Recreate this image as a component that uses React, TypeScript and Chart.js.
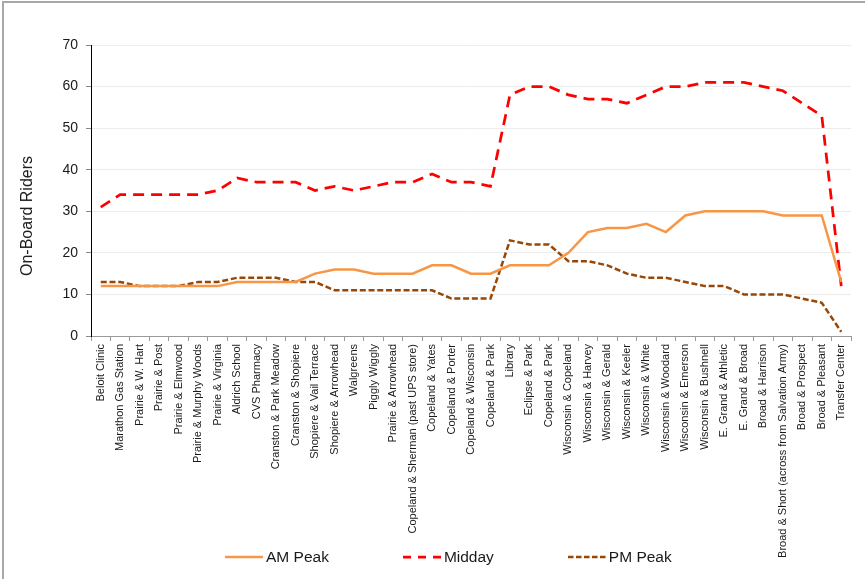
import React, { useEffect, useRef } from "react";
import { Chart, registerables } from "chart.js";

Chart.register(...registerables);

const stops: string[] = [
  "Beloit Clinic",
  "Marathon Gas Station",
  "Prairie & W. Hart",
  "Prairie & Post",
  "Prairie & Elmwood",
  "Prairie & Murphy Woods",
  "Prairie & Virginia",
  "Aldrich School",
  "CVS Pharmacy",
  "Cranston & Park Meadow",
  "Cranston & Shopiere",
  "Shopiere & Vail Terrace",
  "Shopiere & Arrowhead",
  "Walgreens",
  "Piggly Wiggly",
  "Prairie & Arrowhead",
  "Copeland & Sherman (past UPS store)",
  "Copeland & Yates",
  "Copeland & Porter",
  "Copeland & Wisconsin",
  "Copeland & Park",
  "Library",
  "Eclipse & Park",
  "Copeland & Park",
  "Wisconsin & Copeland",
  "Wisconsin & Harvey",
  "Wisconsin & Gerald",
  "Wisconsin & Keeler",
  "Wisconsin & White",
  "Wisconsin & Woodard",
  "Wisconsin & Emerson",
  "Wisconsin & Bushnell",
  "E. Grand & Athletic",
  "E. Grand & Broad",
  "Broad & Harrison",
  "Broad & Short (across from Salvation Army)",
  "Broad & Prospect",
  "Broad & Pleasant",
  "Transfer Center",
];

const amPeak: number[] = [
  12, 12, 12, 12, 12, 12, 12, 13, 13, 13, 13, 15, 16, 16, 15, 15, 15, 17, 17, 15,
  15, 17, 17, 17, 20, 25, 26, 26, 27, 25, 29, 30, 30, 30, 30, 29, 29, 29, 13,
];

const midday: number[] = [
  31, 34, 34, 34, 34, 34, 35, 38, 37, 37, 37, 35, 36, 35, 36, 37, 37, 39, 37, 37,
  36, 58, 60, 60, 58, 57, 57, 56, 58, 60, 60, 61, 61, 61, 60, 59, 56, 53, 12,
];

const pmPeak: number[] = [
  13, 13, 12, 12, 12, 13, 13, 14, 14, 14, 13, 13, 11, 11, 11, 11, 11, 11, 9, 9,
  9, 23, 22, 22, 18, 18, 17, 15, 14, 14, 13, 12, 12, 10, 10, 10, 9, 8, 1,
];

const seriesNames: string[] = ["AM Peak", "Midday", "PM Peak"];
const seriesColors: string[] = ["#F79646", "#FF0000", "#974706"];
const seriesDash: number[][] = [[], [11, 7], [6, 2.75]];
const seriesWidths: number[] = [2.5, 2.75, 2.5];
const legendDash: string[] = ["", "8 7", "5.5 2.5"];
const yTicks = { min: 0, max: 70, step: 10 };
const yTitle = "On-Board Riders";

const FONT = '"Liberation Sans", Arial, sans-serif';

export default function App() {
  const canvasRef = useRef<HTMLCanvasElement | null>(null);

  useEffect(() => {
    document.body.style.margin = "0";
    const canvas = canvasRef.current;
    if (!canvas) return;
    const series = [amPeak, midday, pmPeak];
    const chart = new Chart(canvas, {
      type: "line",
      data: {
        labels: stops,
        datasets: series.map((d, i) => ({
          label: seriesNames[i],
          data: d,
          borderColor: seriesColors[i],
          backgroundColor: seriesColors[i],
          borderWidth: seriesWidths[i],
          borderDash: seriesDash[i],
          pointRadius: 0,
          pointHoverRadius: 0,
          tension: 0,
        })),
      },
      options: {
        animation: false,
        responsive: false,
        devicePixelRatio: 1,
        layout: { padding: { top: 45, left: 46, right: 14, bottom: 4 } },
        plugins: {
          tooltip: { enabled: false },
          legend: { display: false },
        },
        scales: {
          x: {
            type: "category",
            offset: true,
            grid: {
              offset: true,
              drawOnChartArea: false,
              drawTicks: true,
              tickLength: 5,
              tickColor: "#9a9a9a",
            },
            border: { color: "#9a9a9a", width: 1 },
            ticks: {
              autoSkip: false,
              minRotation: 90,
              maxRotation: 90,
              padding: 3,
              color: "#1a1a1a",
              font: { family: FONT, size: 11 },
            },
            afterFit: (scale: any) => {
              scale.height = 239;
            },
          },
          y: {
            min: yTicks.min,
            max: yTicks.max,
            grid: {
              color: "#ececec",
              tickLength: 5,
              tickColor: "#8a8a8a",
            },
            border: { color: "#000000", width: 1 },
            ticks: {
              stepSize: yTicks.step,
              padding: 8,
              color: "#1a1a1a",
              font: { family: FONT, size: 14 },
            },
            afterFit: (scale: any) => {
              scale.width = 45;
            },
          },
        },
      },
    });
    return () => chart.destroy();
  }, []);

  return (
    <div
      style={{
        position: "relative",
        width: 865,
        height: 579,
        overflow: "hidden",
        background: "#ffffff",
      }}
    >
      <div
        style={{
          position: "absolute",
          left: 2,
          top: 1,
          width: 900,
          height: 620,
          borderLeft: "2px solid #a8a8a8",
          borderTop: "2px solid #a8a8a8",
        }}
      />
      <canvas
        ref={canvasRef}
        width={865}
        height={579}
        style={{ position: "absolute", left: 0, top: 0, width: 865, height: 579 }}
      />
      <div
        style={{
          position: "absolute",
          left: 27,
          top: 216,
          transform: "translate(-50%, -50%) rotate(-90deg)",
          fontFamily: FONT,
          fontSize: 16,
          color: "#1a1a1a",
          whiteSpace: "nowrap",
        }}
      >
        {yTitle}
      </div>
      <div
        style={{
          position: "absolute",
          left: 225,
          top: 546,
          height: 21,
          display: "flex",
          alignItems: "center",
          gap: 74,
          fontFamily: FONT,
          fontSize: 15.5,
          color: "#1a1a1a",
          whiteSpace: "nowrap",
        }}
      >
        {seriesNames.map((name, i) => (
          <div key={name} style={{ display: "flex", alignItems: "center" }}>
            <svg width={38} height={8} style={{ display: "block", marginRight: 3 }}>
              <line
                x1={0}
                y1={4}
                x2={38}
                y2={4}
                stroke={seriesColors[i]}
                strokeWidth={seriesWidths[i]}
                strokeDasharray={legendDash[i] || undefined}
              />
            </svg>
            <span>{name}</span>
          </div>
        ))}
      </div>
    </div>
  );
}
